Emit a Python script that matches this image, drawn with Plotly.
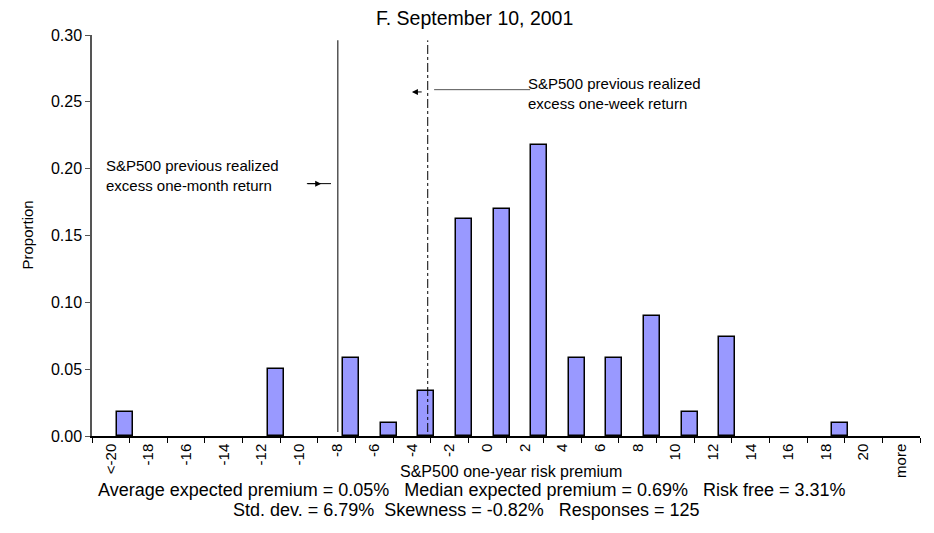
import plotly.graph_objects as go

# histogram of survey answers, one bar per bin (None = empty bin)
categories = ["<-20", "-18", "-16", "-14", "-12", "-10", "-8", "-6", "-4", "-2", "0",
              "2", "4", "6", "8", "10", "12", "14", "16", "18", "20", "more"]
proportion = [0.018, None, None, None, 0.050, None, 0.058, 0.010, 0.034, 0.162, 0.170,
              0.218, 0.058, 0.058, 0.090, 0.018, 0.074, None, None, 0.010, None, None]

title = "F. September 10, 2001"
x_title = "S&P500 one-year risk premium"
stats_line1 = ("Average expected premium = 0.05%&nbsp;&nbsp; Median expected premium = 0.69%"
               "&nbsp;&nbsp; Risk free = 3.31%")
stats_line2 = "Std. dev. = 6.79%&nbsp; Skewness = -0.82%&nbsp;&nbsp; Responses = 125"
month_label = "S&P500 previous realized<br>excess one-month return"
week_label = "S&P500 previous realized<br>excess one-week return"

# realized returns, placed on the category axis
month_return_x = 6.03
week_return_x = 8.42

font = "Liberation Sans, Arial, sans-serif"

fig = go.Figure()
fig.add_trace(go.Bar(
    x=categories, y=proportion,
    width=0.425, offset=0.17,
    marker=dict(color="#9999FF", line=dict(color="black", width=1.5)),
    showlegend=False,
))

# the two realized-return lines
fig.add_shape(type="line", xref="x", yref="y", x0=month_return_x, x1=month_return_x,
              y0=0.003, y1=0.296, line=dict(color="#555555", width=1.5))
fig.add_shape(type="line", xref="x", yref="y", x0=week_return_x, x1=week_return_x,
              y0=0.003, y1=0.296, line=dict(color="black", width=1, dash="dashdot"))

# callout lines
fig.add_shape(type="line", xref="x", yref="y", x0=5.21, x1=5.85, y0=0.1888, y1=0.1888,
              line=dict(color="black", width=1))
fig.add_shape(type="line", xref="x", yref="y", x0=8.59, x1=11.14, y0=0.2591, y1=0.2591,
              line=dict(color="#555555", width=1))

anns = [
    dict(x=5.59, y=0.1888, ax=5.2, ay=0.1888, axref="x", ayref="y", text="",
         showarrow=True, arrowhead=2, arrowsize=1.2, arrowwidth=1, arrowcolor="black"),
    dict(x=8.0, y=0.2574, ax=8.3, ay=0.2574, axref="x", ayref="y", text="",
         showarrow=True, arrowhead=2, arrowsize=1.2, arrowwidth=1, arrowcolor="black"),
    dict(x=-0.17, y=0.195, text=month_label, xanchor="left", yanchor="middle",
         align="left", showarrow=False, font=dict(size=15)),
    dict(x=11.03, y=0.2566, text=week_label, xanchor="left", yanchor="middle",
         align="left", showarrow=False, font=dict(size=15)),
    dict(xref="paper", yref="paper", x=0.462, y=1.0, yshift=17, text=title,
         showarrow=False, font=dict(size=19.5), yanchor="middle"),
    dict(xref="paper", yref="paper", x=0.506, y=0, yshift=-35, text=x_title,
         showarrow=False, font=dict(size=16), yanchor="middle"),
    dict(xref="paper", yref="paper", x=0.459, y=0, yshift=-53.5, text=stats_line1,
         showarrow=False, font=dict(size=18), yanchor="middle"),
    dict(xref="paper", yref="paper", x=0.452, y=0, yshift=-74, text=stats_line2,
         showarrow=False, font=dict(size=18), yanchor="middle"),
    dict(xref="paper", yref="paper", x=0, xshift=-65, y=0.5, text="Proportion",
         textangle=-90, showarrow=False, font=dict(size=15), xanchor="center"),
]

# the page body adds an 8px margin, so the figure is sized and offset for it
fig.update_layout(
    width=926, height=525,
    margin=dict(l=84, r=14, t=27, b=97),
    plot_bgcolor="white", paper_bgcolor="white",
    font=dict(family=font, size=15, color="black"),
    annotations=anns,
    bargap=0,
)
fig.update_xaxes(
    type="category", categoryorder="array", categoryarray=categories,
    range=[-0.5, 21.5], tickangle=-90, tickson="boundaries",
    ticks="outside", ticklen=5, tickcolor="black", tickfont=dict(size=15),
    showline=True, linecolor="black", linewidth=1.5, showgrid=False, zeroline=False,
)
fig.update_yaxes(
    range=[0, 0.30], dtick=0.05, tickformat=".2f",
    ticks="outside", ticklen=5, tickcolor="#555555", tickfont=dict(size=16),
    showline=True, linecolor="#555555", linewidth=1.5, showgrid=False, zeroline=False,
)

fig.write_html("out.html")
